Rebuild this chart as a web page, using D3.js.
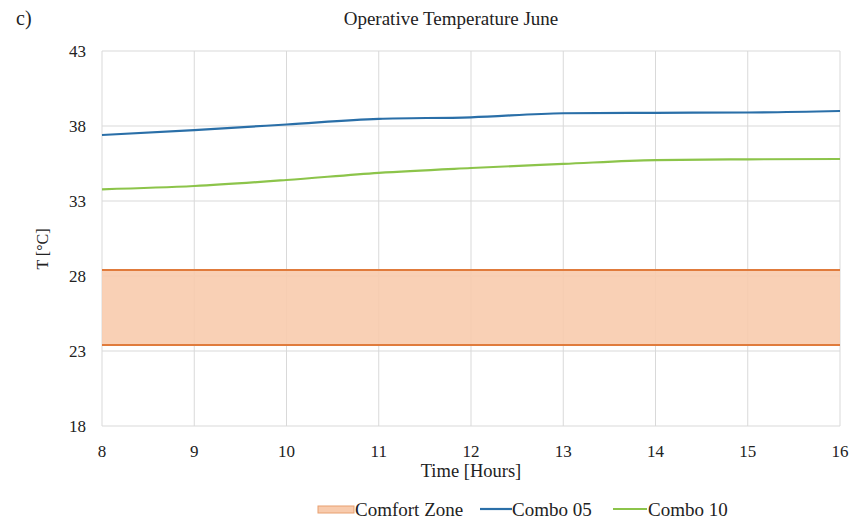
<!DOCTYPE html>
<html><head><meta charset="utf-8">
<script src="https://cdn.jsdelivr.net/npm/d3@7"></script>
<style>body{margin:0;background:#fff;} text{font-family:"Liberation Serif","Times New Roman",serif;fill:#222;}</style>
</head><body>
<svg id="c" width="853" height="523"></svg>
<script>
const hours = [8, 9, 10, 11, 12, 13, 14, 15, 16];
const combo05 = [37.4, 37.73, 38.1, 38.48, 38.58, 38.85, 38.88, 38.9, 39.0];
const combo10 = [33.78, 34.0, 34.4, 34.88, 35.2, 35.47, 35.73, 35.78, 35.8];
const comfortLow = 23.4;
const comfortHigh = 28.4;
const yTicks = [18, 23, 28, 33, 38, 43];
const xTicks = [8, 9, 10, 11, 12, 13, 14, 15, 16];

const svg = d3.select("#c");
const L = 102, R = 840, T = 51, B = 426;
const x = d3.scaleLinear().domain([8, 16]).range([L, R]);
const y = d3.scaleLinear().domain([18, 43]).range([B, T]);

// gridlines
const g = svg.append("g");
g.selectAll(".hg").data(yTicks).join("line")
  .attr("x1", L).attr("x2", R).attr("y1", d => y(d)).attr("y2", d => y(d))
  .attr("stroke", "#d9d9d9").attr("stroke-width", 1);
g.selectAll(".vg").data(xTicks).join("line")
  .attr("x1", d => x(d)).attr("x2", d => x(d)).attr("y1", T).attr("y2", B)
  .attr("stroke", "#d9d9d9").attr("stroke-width", 1);

// comfort zone
svg.append("rect").attr("x", x(8)).attr("width", x(16) - x(8))
  .attr("y", y(comfortHigh)).attr("height", y(comfortLow) - y(comfortHigh))
  .attr("fill", "#f8cbad").attr("opacity", 0.9);
[comfortLow, comfortHigh].forEach(v => {
  svg.append("line").attr("x1", x(8)).attr("x2", x(16)).attr("y1", y(v)).attr("y2", y(v))
    .attr("stroke", "#e07b3c").attr("stroke-width", 2.2);
});

const line = d3.line().x((d, i) => x(hours[i])).y(d => y(d)).curve(d3.curveMonotoneX);
svg.append("path").attr("d", line(combo05)).attr("fill", "none").attr("stroke", "#2a6fa8").attr("stroke-width", 2.2);
svg.append("path").attr("d", line(combo10)).attr("fill", "none").attr("stroke", "#8cc44a").attr("stroke-width", 2.2);

// axes labels
svg.selectAll(".yt").data(yTicks).join("text")
  .attr("x", 86).attr("y", d => y(d) + 6).attr("text-anchor", "end")
  .attr("font-size", 17).text(d => d);
svg.selectAll(".xt").data(xTicks).join("text")
  .attr("x", d => x(d)).attr("y", 457).attr("text-anchor", "middle")
  .attr("font-size", 17).text(d => d);

svg.append("text").attr("x", 471).attr("y", 477).attr("text-anchor", "middle").attr("font-size", 18.5).text("Time [Hours]");
svg.append("text").attr("transform", "translate(48,249) rotate(-90)").attr("text-anchor", "middle").attr("font-size", 16).text("T [°C]");
svg.append("text").attr("x", 451).attr("y", 25).attr("text-anchor", "middle").attr("font-size", 19).text("Operative Temperature June");
svg.append("text").attr("x", 16).attr("y", 25).attr("font-size", 20).text("c)");

// legend
const lg = svg.append("g");
lg.append("rect").attr("x", 318).attr("y", 506).attr("width", 36).attr("height", 7)
  .attr("fill", "#f8cbad").attr("stroke", "#e8a070").attr("stroke-width", 1);
lg.append("text").attr("x", 355).attr("y", 516).attr("font-size", 19).text("Comfort Zone");
lg.append("line").attr("x1", 480).attr("x2", 512).attr("y1", 509).attr("y2", 509).attr("stroke", "#2a6fa8").attr("stroke-width", 2.2);
lg.append("text").attr("x", 512).attr("y", 516).attr("font-size", 19).text("Combo 05");
lg.append("line").attr("x1", 613).attr("x2", 647).attr("y1", 509).attr("y2", 509).attr("stroke", "#8cc44a").attr("stroke-width", 2.2);
lg.append("text").attr("x", 648).attr("y", 516).attr("font-size", 19).text("Combo 10");
</script>
</body></html>
